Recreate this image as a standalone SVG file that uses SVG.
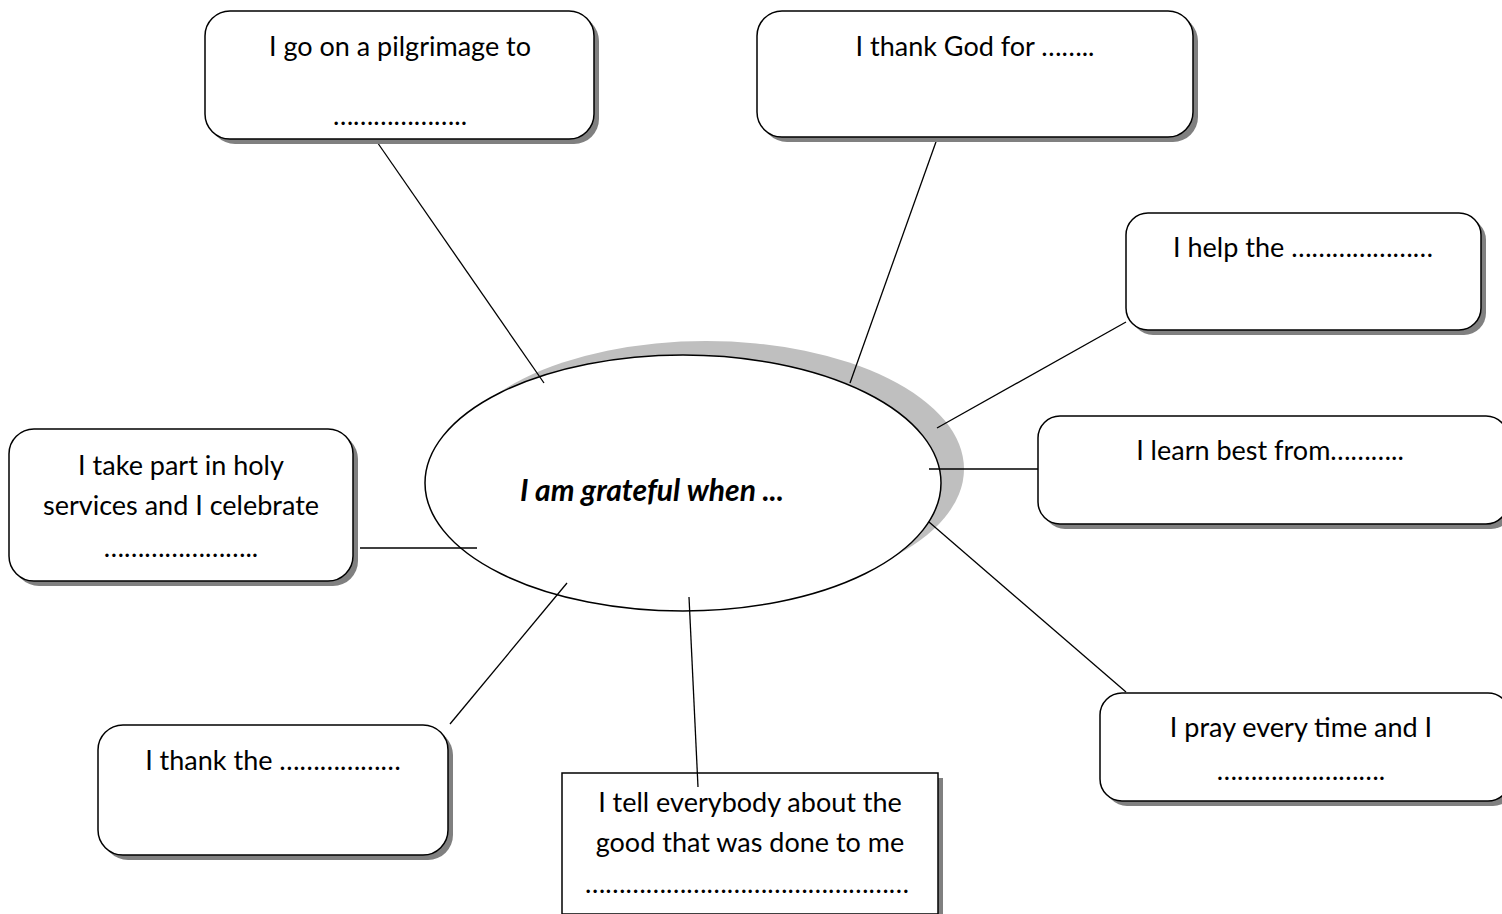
<svg xmlns="http://www.w3.org/2000/svg" width="1502" height="914" viewBox="0 0 1502 914">
<style>
.box{fill:#ffffff;stroke:#000000;stroke-width:1.5}
.sh{fill:#808080}
.t{font-family:Lato,"Liberation Sans",sans-serif;font-size:27px;fill:#000;text-anchor:middle}
.ct{font-family:Lato,"Liberation Sans",sans-serif;font-size:30px;font-weight:bold;font-style:italic;fill:#000;text-anchor:middle}
.c{stroke:#000;stroke-width:1.3;fill:none}
</style>
<rect width="1502" height="914" fill="#ffffff"/>
<g id="center">
<ellipse cx="706" cy="469" rx="258" ry="128" fill="#bfbfbf"/>
<ellipse cx="683" cy="483" rx="258" ry="128" class="box"/>
<text class="ct" x="652" y="501">I am grateful when ...</text>
</g>
<g id="connectors">
<line class="c" x1="375" y1="139" x2="544" y2="383"/>
<line class="c" x1="937" y1="139" x2="850" y2="383"/>
<line class="c" x1="1126" y1="322" x2="937" y2="428"/>
<line class="c" x1="1038" y1="469" x2="929" y2="469"/>
<line class="c" x1="360" y1="548" x2="477" y2="548"/>
<line class="c" x1="450" y1="724" x2="567" y2="583"/>
<line class="c" x1="1126" y1="692" x2="929" y2="522"/>
</g>
<g id="n1">
<rect class="sh" x="210" y="16" width="389" height="128" rx="25"/>
<rect class="box" x="205" y="11" width="389" height="128" rx="25"/>
<text class="t" x="400" y="56">I go on a pilgrimage to</text>
<text class="t" x="400" y="125">………………..</text>
</g>
<g id="n2">
<rect class="sh" x="762" y="16" width="436" height="126" rx="25"/>
<rect class="box" x="757" y="11" width="436" height="126" rx="25"/>
<text class="t" x="975" y="56">I thank God for ……..</text>
</g>
<g id="n3">
<rect class="sh" x="1131" y="218" width="355" height="117" rx="22"/>
<rect class="box" x="1126" y="213" width="355" height="117" rx="22"/>
<text class="t" x="1303" y="257">I help the …………………</text>
</g>
<g id="n4">
<rect class="sh" x="1043" y="421" width="470" height="108" rx="22"/>
<rect class="box" x="1038" y="416" width="470" height="108" rx="22"/>
<text class="t" x="1270" y="460">I learn best from………..</text>
</g>
<g id="n5">
<rect class="sh" x="14" y="434" width="344" height="152" rx="25"/>
<rect class="box" x="9" y="429" width="344" height="152" rx="25"/>
<text class="t" x="181" y="475">I take part in holy</text>
<text class="t" x="181" y="515">services and I celebrate</text>
<text class="t" x="181" y="557">…………………..</text>
</g>
<g id="n6">
<rect class="sh" x="103" y="730" width="350" height="130" rx="25"/>
<rect class="box" x="98" y="725" width="350" height="130" rx="25"/>
<text class="t" x="273" y="770">I thank the ………………</text>
</g>
<g id="n7">
<rect class="sh" x="567" y="778" width="376" height="141"/>
<rect class="box" x="562" y="773" width="376" height="141"/>
<text class="t" x="750" y="812">I tell everybody about the</text>
<text class="t" x="750" y="852">good that was done to me</text>
<text class="t" x="747" y="893">…………………………………………</text>
</g>
<line class="c" x1="689" y1="597" x2="698" y2="787"/>
<g id="n8">
<rect class="sh" x="1105" y="698" width="410" height="108" rx="22"/>
<rect class="box" x="1100" y="693" width="410" height="108" rx="22"/>
<text class="t" x="1301" y="737">I pray every time and I</text>
<text class="t" x="1301" y="780">…………………….</text>
</g>
</svg>
